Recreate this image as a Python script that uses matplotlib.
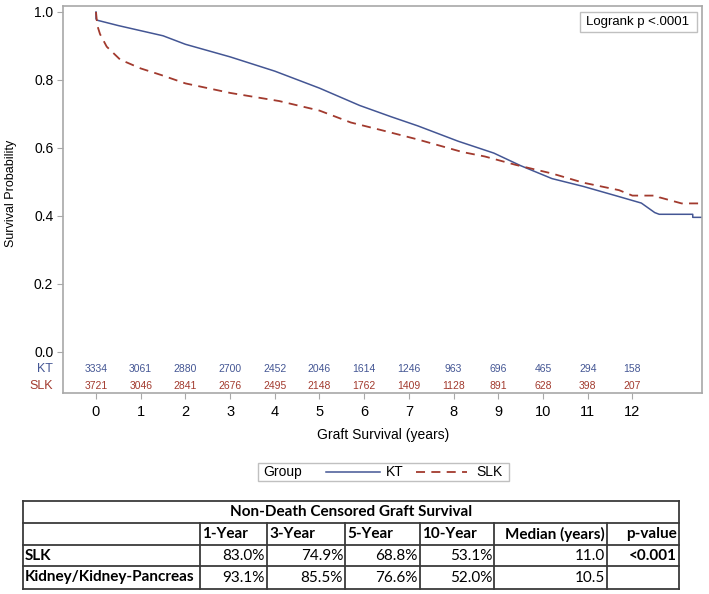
import matplotlib
matplotlib.use("Agg")
import matplotlib.pyplot as plt
from matplotlib.lines import Line2D
from matplotlib.patches import Rectangle

# Kaplan-Meier curves (years, survival probability)
kt_t = [0, 0.0, 0.02, 0.5, 1.0, 1.5, 2.0, 3.0, 4.0, 5.0, 5.9, 6.6, 7.2, 8.1, 8.9,
        9.5, 10.2, 10.9, 11.7, 12.2, 12.5, 12.6, 13.35, 13.35, 13.56]
kt_s = [1.0, 0.98, 0.976, 0.96, 0.945, 0.93, 0.905, 0.868, 0.826, 0.776, 0.725, 0.692,
        0.665, 0.62, 0.585, 0.548, 0.51, 0.487, 0.457, 0.438, 0.41, 0.405, 0.405,
        0.396, 0.396]
slk_t = [0, 0.03, 0.09, 0.24, 0.54, 1.0, 1.45, 2.0, 3.0, 4.1, 5.0, 5.7, 6.4, 7.2,
         8.2, 8.7, 9.4, 10.2, 10.9, 11.7, 12.0, 12.55, 12.6, 13.1, 13.56]
slk_s = [1.0, 0.96, 0.935, 0.898, 0.86, 0.834, 0.815, 0.79, 0.762, 0.738, 0.71,
         0.675, 0.652, 0.625, 0.588, 0.575, 0.55, 0.525, 0.498, 0.476, 0.46, 0.46,
         0.455, 0.437, 0.437]

# numbers at risk
risk_years = list(range(13))
kt_risk = [3334, 3061, 2880, 2700, 2452, 2046, 1614, 1246, 963, 696, 465, 294, 158]
slk_risk = [3721, 3046, 2841, 2676, 2495, 2148, 1762, 1409, 1128, 891, 628, 398, 207]

# summary table
tbl_title = "Non-Death Censored Graft Survival"
tbl_cols = ["1-Year", "3-Year", "5-Year", "10-Year", "Median (years)", "p-value"]
tbl_rows = ["SLK", "Kidney/Kidney-Pancreas"]
tbl_vals = [["83.0%", "74.9%", "68.8%", "53.1%", "11.0", "<0.001"],
            ["93.1%", "85.5%", "76.6%", "52.0%", "10.5", ""]]

KT_COL = "#445694"
SLK_COL = "#A23A2E"
FRAME = "#a8a8a8"
W, H = 709, 594


def fx(x):
    return x / W


def fy(y):
    return 1 - y / H


plt.rcParams['font.family'] = ['Liberation Sans', 'DejaVu Sans']

fig = plt.figure(figsize=(W / 100, H / 100), dpi=100)
ax = fig.add_axes([fx(63), fy(393), (702 - 63) / W, (393 - 6) / H])

ax.plot(kt_t, kt_s, color=KT_COL, lw=1.1)
ax.plot(slk_t, slk_s, color=SLK_COL, lw=1.3, ls=(0, (5, 3.5)))

ax.set_xlim(-0.738, 13.557)
ax.set_ylim(-0.1206, 1.0176)
ax.set_xticks(risk_years)
ax.set_yticks([0, 0.2, 0.4, 0.6, 0.8, 1.0])
ax.set_yticklabels(["0.0", "0.2", "0.4", "0.6", "0.8", "1.0"])
ax.tick_params(axis='y', length=4, color=FRAME, pad=3, labelsize=10)
ax.tick_params(axis='x', length=4, color=FRAME, pad=5, labelsize=10.5)
for sp in ax.spines.values():
    sp.set_color(FRAME)
    sp.set_linewidth(1.2)

# at-risk table inside the axes
for i, yr in enumerate(risk_years):
    ax.text(yr, -0.05, str(kt_risk[i]), color=KT_COL, fontsize=7.5, ha='center', va='center')
    ax.text(yr, -0.1, str(slk_risk[i]), color=SLK_COL, fontsize=7.5, ha='center', va='center')
fig.text(fx(53), fy(369), "KT", color=KT_COL, fontsize=9, ha='right', va='center')
fig.text(fx(53), fy(386), "SLK", color=SLK_COL, fontsize=9, ha='right', va='center')

fig.text(fx(11), fy(193), "Survival Probability", rotation=90, fontsize=9,
         ha='center', va='center', family=['Liberation Sans Narrow', 'Liberation Sans'])
fig.text(fx(383), fy(435), "Graft Survival (years)", fontsize=10, ha='center', va='center')

# logrank box
fig.add_artist(Rectangle((fx(580), fy(32)), (697 - 580) / W, 20 / H, transform=fig.transFigure,
                         fill=False, ec="#c0c0c0", lw=1))
fig.text(fx(638), fy(22), "Logrank p <.0001", fontsize=9.5, ha='center', va='center')

# legend box
fig.add_artist(Rectangle((fx(258), fy(481)), (509 - 258) / W, 18 / H, transform=fig.transFigure,
                         fill=False, ec="#c0c0c0", lw=1))
fig.text(fx(263), fy(472), "Group", fontsize=10, ha='left', va='center')
fig.add_artist(Line2D([fx(326), fx(380)], [fy(472), fy(472)], transform=fig.transFigure,
                      color=KT_COL, lw=1.1))
fig.text(fx(386), fy(472), "KT", fontsize=10, ha='left', va='center')
fig.add_artist(Line2D([fx(416), fx(467)], [fy(472), fy(472)], transform=fig.transFigure,
                      color=SLK_COL, lw=1.3, ls=(0, (5, 3.5))))
fig.text(fx(476), fy(472), "SLK", fontsize=10, ha='left', va='center')

# summary table drawn with lines
col_x = [23, 200, 267, 345, 420, 494, 607, 679]
row_y = [501, 523, 545, 566, 589]
LC = "#3a3a3a"


def hline(y, x0, x1):
    fig.add_artist(Line2D([fx(x0), fx(x1)], [fy(y), fy(y)], transform=fig.transFigure, color=LC, lw=1.3))


def vline(x, y0, y1):
    fig.add_artist(Line2D([fx(x), fx(x)], [fy(y0), fy(y1)], transform=fig.transFigure, color=LC, lw=1.3))


for y in row_y:
    hline(y, col_x[0], col_x[-1])
vline(col_x[0], row_y[0], row_y[-1])
vline(col_x[-1], row_y[0], row_y[-1])
for x in col_x[1:-1]:
    vline(x, row_y[1], row_y[-1])

tf = ['Lato', 'DejaVu Sans']
fs = 11
fig.text(fx((col_x[0] + col_x[-1]) / 2), fy(512), tbl_title, fontsize=fs, weight='bold',
         family=tf, ha='center', va='center')
for j, c in enumerate(tbl_cols):
    if j < 4:
        fig.text(fx(col_x[j + 1] + 2), fy(534), c, fontsize=fs, weight='bold', family=tf,
                 ha='left', va='center')
    else:
        fig.text(fx(col_x[j + 2] - 2), fy(534), c, fontsize=fs, weight='bold', family=tf,
                 ha='right', va='center')
for i, r in enumerate(tbl_rows):
    yc = fy((row_y[i + 2] + row_y[i + 3]) / 2)
    fig.text(fx(col_x[0] + 2), yc, r, fontsize=fs, weight='bold', family=tf, ha='left', va='center')
    for j, v in enumerate(tbl_vals[i]):
        fig.text(fx(col_x[j + 2] - 2), yc, v, fontsize=fs, family=tf, ha='right', va='center',
                 weight='bold' if v.startswith('<') else 'normal')

fig.savefig("out.png", dpi=100)
